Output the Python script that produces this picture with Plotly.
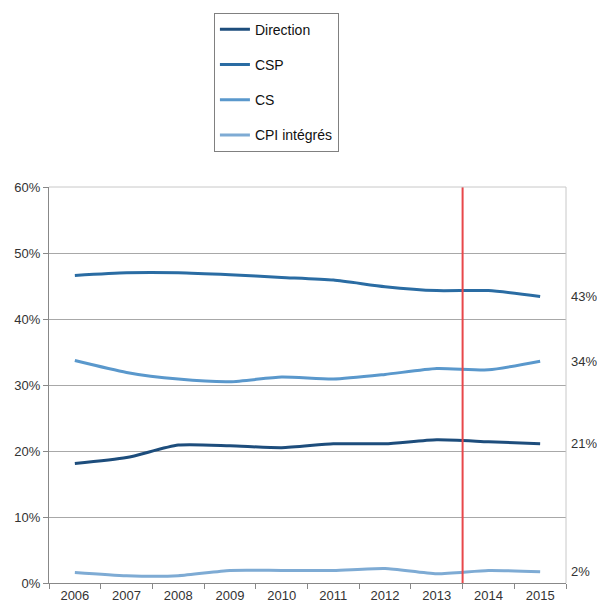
import plotly.graph_objects as go

years = ["2006", "2007", "2008", "2009", "2010", "2011", "2012", "2013", "2014", "2015"]
direction = [18.1, 19.0, 20.9, 20.8, 20.5, 21.1, 21.1, 21.7, 21.4, 21.1]
csp = [46.6, 47.0, 47.0, 46.7, 46.3, 45.9, 44.9, 44.3, 44.3, 43.4]
cs = [33.7, 31.9, 30.9, 30.5, 31.2, 30.9, 31.6, 32.5, 32.3, 33.6]
cpi = [1.6, 1.1, 1.1, 1.9, 1.9, 1.9, 2.2, 1.4, 1.9, 1.7]
end_labels = ["21%", "43%", "34%", "2%"]
series_names = ["Direction", "CSP", "CS", "CPI intégrés"]
series_values = [direction, csp, cs, cpi]
series_colors = ["#1d4d7c", "#2a6ca3", "#5a98cc", "#7eabd4"]
marker_after = "2013"
y_ticks = [0, 10, 20, 30, 40, 50, 60]
y_tick_labels = ["0%", "10%", "20%", "30%", "40%", "50%", "60%"]

FONT = "Liberation Sans, Arial, sans-serif"

fig = go.Figure()
for i, (name, vals, col) in enumerate(zip(series_names, series_values, series_colors)):
    fig.add_trace(go.Scatter(
        x=years, y=vals, name=name, mode="lines",
        line=dict(color=col, width=3, shape="spline", smoothing=0.6),
        legendgroup=f"g{i}",
    ))
    fig.add_annotation(
        x=1, xref="paper", y=vals[-1], yref="y", text=end_labels[i],
        showarrow=False, xanchor="left", xshift=3,
        font=dict(family=FONT, size=13, color="#333333"),
    )

idx = years.index(marker_after) + 0.5
fig.add_shape(type="line", x0=idx, x1=idx, xref="x", y0=-0.6, y1=60, yref="y",
              line=dict(color="#e8474a", width=2))
# top and right border
fig.add_shape(type="line", x0=0, x1=1, xref="paper", y0=1, y1=1, yref="paper",
              line=dict(color="#c8c8c8", width=1))
fig.add_shape(type="line", x0=1, x1=1, xref="paper", y0=0, y1=1, yref="paper",
              line=dict(color="#c8c8c8", width=1))

fig.update_layout(
    width=597, height=615,
    margin=dict(l=49, r=31, t=184, b=30),
    paper_bgcolor="white", plot_bgcolor="white",
    font=dict(family=FONT, size=13, color="#333333"),
    showlegend=True,
    legend=dict(
        x=0.319, y=1.44, xanchor="left", yanchor="top",
        bordercolor="#808080", borderwidth=1, bgcolor="white",
        font=dict(family=FONT, size=14, color="#111111"),
        tracegroupgap=14, traceorder="grouped", itemwidth=30,
    ),
    xaxis=dict(
        type="category", range=[-0.5, 9.5], tickson="boundaries",
        ticks="outside", ticklen=5, tickcolor="#888888",
        showline=True, linecolor="#888888", showgrid=False,
        tickfont=dict(family=FONT, size=13, color="#333333"),
    ),
    yaxis=dict(
        range=[0, 60], tickmode="array", tickvals=y_ticks, ticktext=y_tick_labels,
        ticks="outside", ticklen=5, tickcolor="#888888",
        showline=True, linecolor="#888888",
        showgrid=True, gridcolor="#a8a8a8", gridwidth=1,
        zeroline=False,
        tickfont=dict(family=FONT, size=13, color="#333333"),
    ),
)

fig.write_html("out.html", config={"displayModeBar": False},
               post_script="document.body.style.margin='0';document.body.style.overflow='hidden';")
